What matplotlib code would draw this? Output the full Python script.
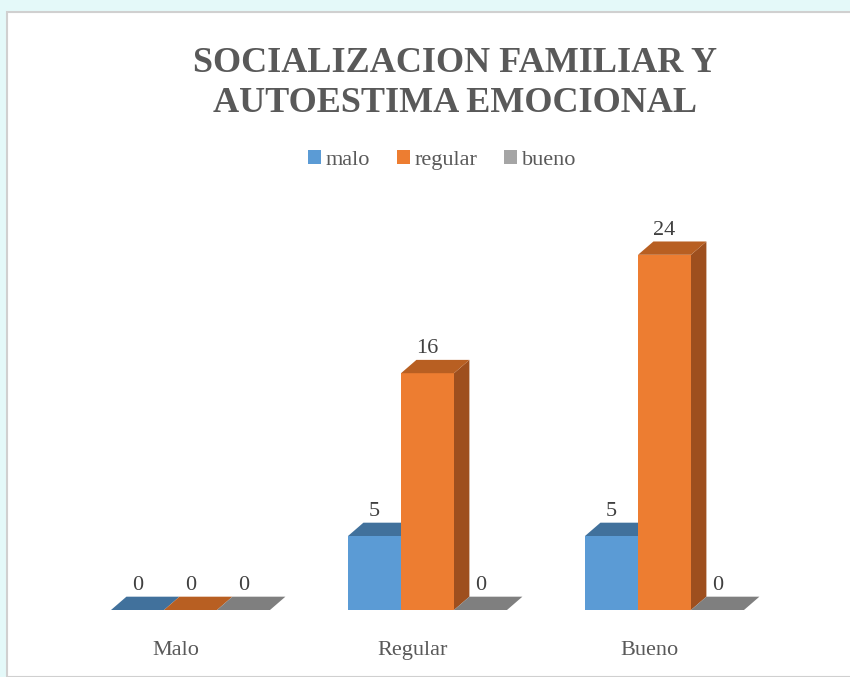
import numpy as np
import matplotlib
matplotlib.use("Agg")
import matplotlib.pyplot as plt
from matplotlib.patches import Polygon, Rectangle
from matplotlib.transforms import offset_copy

plt.rcParams['font.family'] = ['Liberation Serif', 'DejaVu Serif']

categories = ['Malo', 'Regular', 'Bueno']
series = ['malo', 'regular', 'bueno']
malo = [0, 5, 5]
regular = [0, 16, 24]
bueno = [0, 0, 0]

front = ['#5B9BD5', '#ED7D31', '#A5A5A5']
top = ['#41719C', '#B85F22', '#7F7F7F']
side = ['#41719C', '#9E4F1E', '#7A7A7A']
text_col = '#595959'

fig = plt.figure(figsize=(8.5, 6.77), dpi=100)
fig.patch.set_facecolor('#E4F9F9')
bg = Rectangle((7 / 850, 0), 1, 1 - 12 / 677, transform=fig.transFigure,
               facecolor='white', edgecolor='#D0D0D0', lw=1.5, zorder=-5)
fig.patches.append(bg)

ax = fig.add_axes([48.3 / 850, 67 / 677, 758.4 / 850, 414.4 / 677])
ax.set_xlim(-0.6, 2.6)
ax.set_ylim(0, 28)
ax.axis('off')
ax.set_zorder(5)

w = 0.2236   # bar width in category units
dx = 0.065   # depth offset x
dy = 0.9     # depth offset y

values = [malo, regular, bueno]
for i in range(len(categories)):
    x_start = i - 1.5 * w
    for s in range(len(series)):
        h = values[s][i]
        x0 = x_start + s * w
        if h > 0:
            ax.add_patch(Polygon([(x0 + w, 0), (x0 + w + dx, dy), (x0 + w + dx, h + dy), (x0 + w, h)],
                                 closed=True, facecolor=side[s], edgecolor='none'))
            ax.add_patch(Rectangle((x0, 0), w, h, facecolor=front[s], edgecolor='none'))
        ax.add_patch(Polygon([(x0, h), (x0 + w, h), (x0 + w + dx, h + dy), (x0 + dx, h + dy)],
                             closed=True, facecolor=top[s], edgecolor='none'))
        ax.text(x0 + w / 2, h + dy + 0.1, str(h), ha='center', va='bottom',
                fontsize=16, color='#404040')

lab_tr = offset_copy(ax.transData, fig=fig, x=-15, y=-31, units='dots')
for i, c in enumerate(categories):
    ax.text(i, 0, c, transform=lab_tr, ha='center', va='top', fontsize=16, color=text_col)

fig.text(455 / 850, 1 - 84 / 677, 'SOCIALIZACION FAMILIAR Y\nAUTOESTIMA EMOCIONAL',
         ha='center', va='center', fontsize=26, fontweight='bold', color=text_col,
         family='Liberation Serif', linespacing=1.28)

handles = [Rectangle((0, 0), 1, 1, facecolor=front[s]) for s in range(3)]
fig.legend(handles, series, loc='center', bbox_to_anchor=(442 / 850, 1 - 160 / 677), ncol=3,
           frameon=False, fontsize=16, handlelength=0.6, handleheight=0.6, handletextpad=0.2,
           columnspacing=1.2, labelcolor=text_col)

fig.savefig('out.png', dpi=100)
